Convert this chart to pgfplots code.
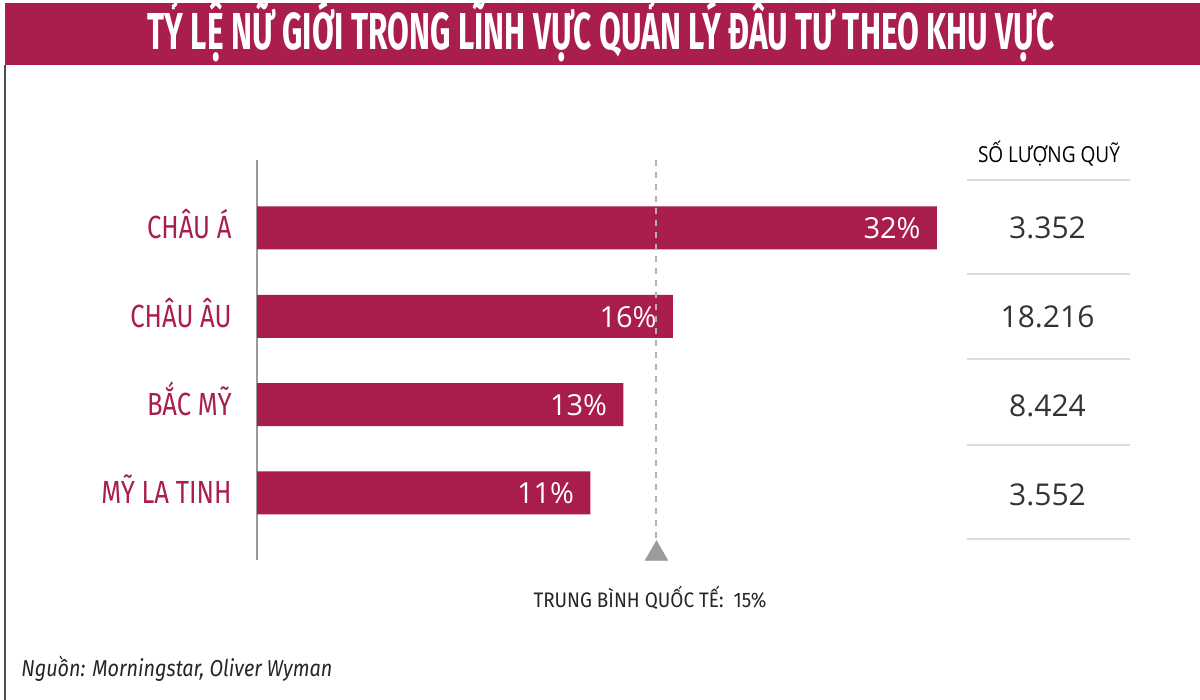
\documentclass[border=0pt]{standalone}
\usepackage{pgfplots}
\pgfplotsset{compat=1.18}
\usepackage{fontspec}
\usepackage{graphicx}
\setmainfont{Open Sans}
\newfontfamily\cond[FakeStretch=0.8]{Fira Sans}
\definecolor{crimson}{HTML}{AA1E4E}
\definecolor{barred}{HTML}{A81D4D}
\definecolor{axisgray}{HTML}{9A9A9A}
\definecolor{dashgray}{HTML}{B0B0B0}
\definecolor{trigray}{HTML}{9B9B9B}
\definecolor{rulegray}{HTML}{DCDCDC}
\definecolor{textdark}{HTML}{333333}
\definecolor{framegray}{HTML}{505050}

\begin{document}
\begin{tikzpicture}
% canvas: 1px of the reference = 0.5pt, origin top left
\fill[white] (0,0) rectangle (600pt,-350pt);
\fill[crimson] (2.5pt,-1.5pt) rectangle (600pt,-32.5pt);
\draw[framegray, line width=1pt] (2.5pt,-32.5pt) -- (2.5pt,-350pt);
\node[anchor=base, white, inner sep=0pt] at (300.5pt,-25pt)
  {\resizebox{453.5pt}{\height}{\fontsize{26}{28}\cond\bfseries TỶ LỆ NỮ GIỚI TRONG LĨNH VỰC QUẢN LÝ ĐẦU TƯ THEO KHU VỰC}};

\begin{axis}[
  at={(128.5pt,-280pt)}, anchor=south west,
  scale only axis, width=429pt, height=200pt,
  xmin=0, xmax=52, ymin=-0.77, ymax=3.76, y dir=reverse,
  axis x line=none, axis y line*=left,
  axis line style={draw=axisgray, line width=1pt},
  x filter/.expression={x+9.21},
  ytick={0,1,2,3},
  yticklabels={CHÂU Á, CHÂU ÂU, BẮC MỸ, MỸ LA TINH},
  major tick length=0pt,
  yticklabel style={font=\fontsize{16}{18}\cond, text=crimson, anchor=east,
    inner sep=0pt, xshift=-12.5pt, text height=11pt, text depth=0pt},
  /pgf/number format/assume math mode=true,
  clip=false,
]
\addplot[xbar, bar width=21.5pt, fill=barred, draw=none,
  point meta=explicit,
  nodes near coords={\pgfmathprintnumber{\pgfplotspointmeta}\%},
  nodes near coords align={left},
  every node near coord/.append style={text=white, font=\fontsize{14.5}{16}\selectfont,
    inner sep=0pt, xshift=-8pt, text height=11pt, text depth=0pt}]
  coordinates {(32,0) [32] (16,1) [16] (13,2) [13] (11,3) [11]};
% international average 15%
\addplot[draw=dashgray, line width=1pt, dash pattern=on 3pt off 3pt]
  coordinates {(15,-0.77) (15,3.53)};
\addplot[trigray, only marks, mark=triangle*, mark size=6.6pt,
  mark options={fill=trigray, draw=trigray, line width=0.2pt}]
  coordinates {(15,3.69)};
\end{axis}

% fund count table
\node[anchor=base, text=black, inner sep=0pt] at (524.5pt,-81.5pt)
  {\resizebox{71pt}{\height}{\fontsize{11}{13}\selectfont SỐ LƯỢNG QUỸ}};
\foreach \yy in {-90,-137,-179.5,-222.5,-269.5}
  \draw[rulegray, line width=1pt] (483.5pt,\yy pt) -- (565pt,\yy pt);
\begin{scope}[every node/.style={anchor=base, text=textdark, inner sep=0pt,
    font=\fontsize{15}{18}\selectfont}]
\node at (523.75pt,-119.25pt) {3.352};
\node at (523.75pt,-163.85pt) {18.216};
\node at (523.75pt,-208pt) {8.424};
\node at (523.75pt,-252.5pt) {3.552};
\end{scope}

\node[anchor=base, text=black!85, inner sep=0pt] at (325pt,-303.5pt)
  {\resizebox{116.5pt}{\height}{\fontsize{10.5}{12}\cond TRUNG BÌNH QUỐC TẾ:\ \ 15\%}};
\node[anchor=base west, text=black!85, inner sep=0pt] at (10.5pt,-338pt)
  {\resizebox{155.5pt}{\height}{\fontsize{11.5}{13}\cond\itshape Nguồn: Morningstar, Oliver Wyman}};
\pgfresetboundingbox
\path[use as bounding box] (0,0) rectangle (600pt,-350pt);
\end{tikzpicture}
\end{document}
